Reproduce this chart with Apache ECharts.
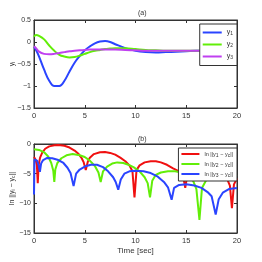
<!DOCTYPE html>
<html><head><meta charset="utf-8">
<script src="https://cdn.jsdelivr.net/npm/echarts@6/dist/echarts.min.js"></script>
<style>html,body{margin:0;padding:0;background:#fff}#c{width:262px;height:262px}</style>
</head><body><div id="c"></div>
<script>
// ---- top panel (a) ----
const tTop = [0,0.2,0.5,1,1.5,2,2.5,3,3.5,4,4.5,5,5.5,6,6.5,7,7.5,8,9,10,11,12,13,14,15,16,17,18,19,20];
const y1 = [-0.11,-0.18,-0.33,-0.63,-0.88,-1.0,-1.0,-0.88,-0.67,-0.47,-0.32,-0.19,-0.1,-0.03,0.01,0.02,0.0,-0.05,-0.14,-0.2,-0.23,-0.24,-0.23,-0.22,-0.21,-0.2,-0.2,-0.2,-0.2,-0.2];
const y2 = [0.12,0.16,0.14,0.06,-0.08,-0.2,-0.29,-0.33,-0.35,-0.34,-0.31,-0.27,-0.23,-0.2,-0.18,-0.16,-0.15,-0.14,-0.14,-0.16,-0.18,-0.19,-0.2,-0.2,-0.2,-0.2,-0.2,-0.2,-0.2,-0.2];
const y3 = [-0.1,-0.14,-0.22,-0.27,-0.28,-0.27,-0.25,-0.23,-0.21,-0.2,-0.19,-0.18,-0.17,-0.17,-0.17,-0.17,-0.17,-0.17,-0.18,-0.19,-0.2,-0.2,-0.2,-0.2,-0.2,-0.2,-0.2,-0.2,-0.2,-0.2];
const topTicks = [0.5,0,-0.5,-1,-1.5];

// ---- bottom panel (b) ----
const tRed = [0,0.15,0.28,0.37,0.46,0.6,0.8,1.1,1.5,2.0,2.4,3.0,3.5,4.0,4.4,4.7,4.9,5.1,5.3,5.5,5.9,6.5,7.0,7.5,8.0,8.5,9.0,9.4,9.7,9.9,10.1,10.4,10.9,11.5,12.0,12.5,13.1,13.7,14.3,14.7,14.9,15.1,15.5,16.2,17.0,17.8,18.5,19.0,19.3,19.5,19.7,20.0];
const eRed = [-2.2,-2.6,-3.5,-6.6,-3.5,-2.3,-1.5,-0.8,-0.4,-0.2,-0.15,-0.3,-0.6,-1.1,-1.7,-2.4,-3.1,-4.4,-3.0,-2.3,-1.7,-1.4,-1.35,-1.5,-1.8,-2.3,-2.9,-3.6,-4.6,-9.0,-4.4,-3.6,-3.1,-2.9,-2.9,-3.1,-3.5,-4.1,-4.6,-5.5,-7.4,-5.3,-4.4,-3.9,-3.8,-4.1,-4.8,-5.8,-7.0,-10.8,-6.8,-5.8];
const tGreen = [0,0.5,1.0,1.4,1.7,1.9,2.0,2.1,2.3,2.7,3.2,3.8,4.5,5.0,5.5,6.0,6.35,6.57,6.8,7.2,7.7,8.2,8.8,9.3,9.8,10.4,10.9,11.2,11.43,11.65,12.0,12.5,13.2,13.9,14.5,15.2,15.7,16.0,16.3,16.55,17.0,17.6,18.3,19.0,19.6,20.0];
const eGreen = [-0.9,-1.0,-1.4,-2.1,-3.2,-4.5,-6.4,-4.3,-3.2,-2.4,-1.9,-1.7,-1.9,-2.2,-2.8,-3.7,-4.8,-6.4,-4.6,-3.8,-3.3,-3.1,-3.2,-3.5,-3.9,-4.6,-5.6,-6.6,-9.0,-6.2,-5.2,-4.8,-4.6,-4.6,-4.8,-5.4,-6.3,-7.6,-12.8,-7.4,-6.0,-5.3,-5.0,-5.0,-5.2,-5.4];
const tBlue = [0,0.05,0.3,0.45,0.58,0.7,0.9,1.3,1.8,2.4,2.9,3.3,3.6,3.9,4.15,4.5,5.0,5.6,6.2,6.8,7.3,7.8,8.05,8.3,8.55,8.9,9.4,10.0,10.8,11.5,12.2,12.8,13.2,13.56,13.8,14.3,15.0,15.8,16.5,17.1,17.5,17.9,18.2,18.6,19.2,20.0];
const eBlue = [-8.5,-2.6,-2.8,-3.5,-4.7,-3.3,-2.7,-2.35,-2.4,-2.7,-3.2,-4.0,-4.9,-7.1,-5.0,-4.3,-3.8,-3.5,-3.5,-3.9,-4.6,-5.6,-6.4,-7.7,-6.0,-5.0,-4.6,-4.5,-4.6,-4.9,-5.5,-6.4,-7.3,-9.4,-7.4,-6.9,-6.8,-7.0,-7.4,-8.1,-8.8,-11.9,-9.3,-8.2,-7.6,-7.4];
const botTicks = [0,-5,-10,-15];
const xTicks = [0,5,10,15,20];

const zip = (a,b) => a.map((v,i)=>[v,b[i]]);
const fmt = v => (v<0 ? '\u2212'+Math.abs(v) : String(v));
const FONT = 'Liberation Sans Narrow, Liberation Sans, Arial, sans-serif';
const BLUE='#2a44ff', GREEN='#62ee08', PURPLE='#c040f0', RED='#f01010';

const lbl = {fontFamily:FONT,fontSize:7.5,color:'#333'};
function xAx(g, pos, show){
  return {type:'value',gridIndex:g,position:pos,min:0,max:20,interval:5,
    axisLine:{show:true,onZero:false,lineStyle:{color:'#333',width:1}},
    axisTick:{show:true,inside:true,length:3,lineStyle:{color:'#333'}},
    axisLabel:Object.assign({show:show,margin:4},lbl),
    splitLine:{show:false}};
}
const sub = {fontFamily:FONT,fontSize:5,color:'#333',verticalAlign:'bottom',padding:[3,0,0,0]};
function yAx(g,pos,show,min,max,iv,name){
  return {type:'value',gridIndex:g,position:pos,min:min,max:max,interval:iv,
    name:show?name:'',nameLocation:'middle',nameGap:show?18:0,nameMoveOverlap:false,
    nameTextStyle:{fontFamily:FONT,fontSize:7,color:'#333',rich:{s:sub}},
    axisLine:{show:true,onZero:false,lineStyle:{color:'#333',width:1}},
    axisTick:{show:true,inside:true,length:3,lineStyle:{color:'#333'}},
    axisLabel:Object.assign({show:show,margin:3,formatter:fmt},lbl,{fontSize:7}),
    splitLine:{show:false}};
}
const opt = {
  animation:false,
  backgroundColor:'#fff',
  title:[
    {text:'(a)',left:133,top:5,textStyle:{fontFamily:FONT,fontSize:7,fontWeight:'normal',color:'#333'}},
    {text:'(b)',left:133,top:131,textStyle:{fontFamily:FONT,fontSize:7,fontWeight:'normal',color:'#333'}}
  ],
  grid:[
    {left:34,right:25,top:20,height:88,show:true,borderColor:'#333',borderWidth:1,backgroundColor:'#fff',containLabel:false,outerBoundsMode:'none'},
    {left:34,right:25,top:144,height:89,show:true,borderColor:'#333',borderWidth:1,backgroundColor:'#fff',containLabel:false,outerBoundsMode:'none'}
  ],
  xAxis:[xAx(0,'bottom',true),xAx(0,'top',false),
    Object.assign(xAx(1,'bottom',true),{name:'Time [sec]',nameLocation:'middle',nameGap:14,nameMoveOverlap:false,nameTextStyle:{fontFamily:FONT,fontSize:8,color:'#333'}}),
    xAx(1,'top',false)],
  yAxis:[yAx(0,'left',true,-1.5,0.5,0.5,'y{s|i}'),yAx(0,'right',false,-1.5,0.5,0.5,''),
    yAx(1,'left',true,-15,0,5,'ln ||y{s|i} \u2212 y{s|c}||'),yAx(1,'right',false,-15,0,5,'')],
  legend:[
    {data:['y1','y2','y3'],orient:'vertical',right:25,top:24,padding:[5,4,5,3],itemGap:4.5,
     itemWidth:19,itemHeight:2,icon:'rect',borderColor:'#333',borderWidth:1,backgroundColor:'#fff',
     formatter:n=>'y{s|'+n.slice(1)+'}',
     textStyle:{fontFamily:FONT,fontSize:7,color:'#333',rich:{s:sub}}},
    {data:['e1','e2','e3'],orient:'vertical',right:25,top:148,padding:[3,4,3,3],itemGap:3,
     itemWidth:18,itemHeight:2,icon:'rect',borderColor:'#333',borderWidth:1,backgroundColor:'#fff',
     formatter:n=>'ln ||y{s|'+n.slice(1)+'} \u2212 y{s|c}||',
     textStyle:{fontFamily:FONT,fontSize:5.5,color:'#333',rich:{s:sub}}}
  ],
  series:[
    {name:'y1',type:'line',xAxisIndex:0,yAxisIndex:0,data:zip(tTop,y1),smooth:0.4,showSymbol:false,color:BLUE,lineStyle:{width:2,color:BLUE}},
    {name:'y2',type:'line',xAxisIndex:0,yAxisIndex:0,data:zip(tTop,y2),smooth:0.4,showSymbol:false,color:GREEN,lineStyle:{width:2,color:GREEN}},
    {name:'y3',type:'line',xAxisIndex:0,yAxisIndex:0,data:zip(tTop,y3),smooth:0.4,showSymbol:false,color:PURPLE,lineStyle:{width:2,color:PURPLE}},
    {name:'e1',type:'line',xAxisIndex:2,yAxisIndex:2,data:zip(tRed,eRed),showSymbol:false,color:RED,lineStyle:{width:2,color:RED}},
    {name:'e2',type:'line',xAxisIndex:2,yAxisIndex:2,data:zip(tGreen,eGreen),showSymbol:false,color:GREEN,lineStyle:{width:2,color:GREEN}},
    {name:'e3',type:'line',xAxisIndex:2,yAxisIndex:2,data:zip(tBlue,eBlue),showSymbol:false,color:BLUE,lineStyle:{width:2,color:BLUE}}
  ]
};
const chart = echarts.init(document.getElementById('c'),null,{renderer:'canvas'});
chart.setOption(opt);
</script></body></html>
